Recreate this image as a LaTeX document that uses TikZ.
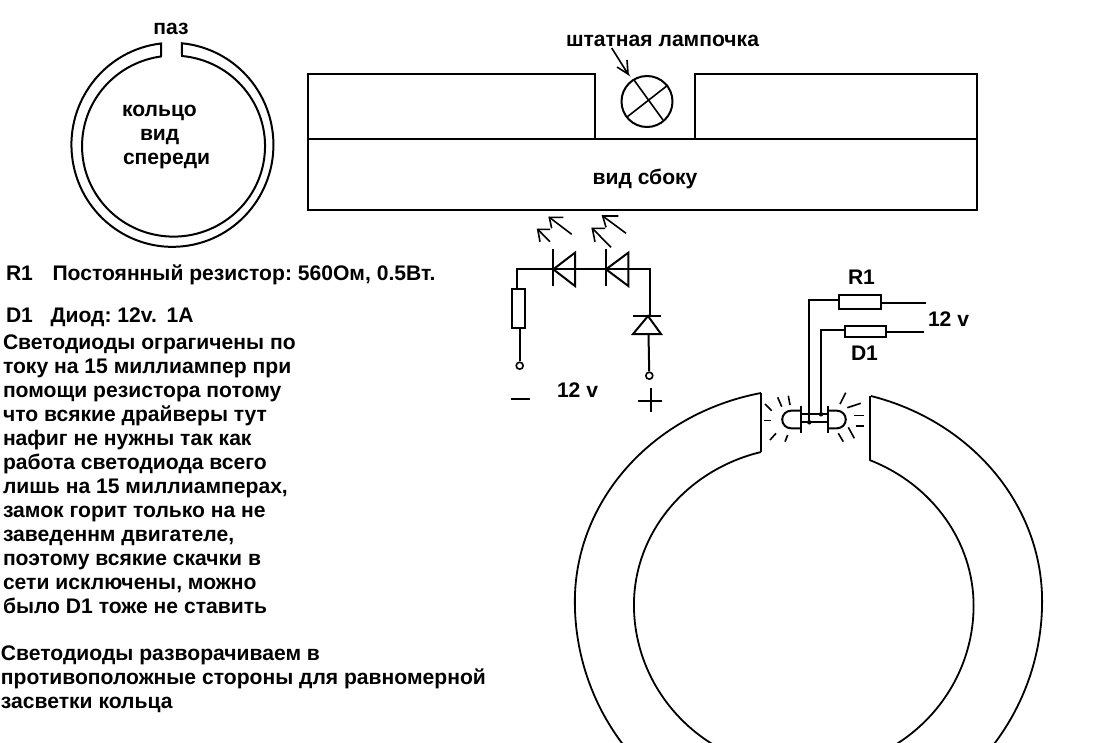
\documentclass[tikz,border=0pt]{standalone}
\usepackage{fontspec}
\setmainfont{Liberation Sans}
\frenchspacing
\tikzset{
 ln/.style={line width=2pt,black},
 ringl/.style={line width=1.8pt,black},
 fine/.style={line width=1.6pt,black},
 txt/.style={inner sep=0pt,outer sep=0pt,yshift=-0.7pt,font=\fontsize{21.1}{24}\selectfont\bfseries\frenchspacing,anchor=base west},
 ctxt/.style={inner sep=0pt,outer sep=0pt,yshift=-0.7pt,font=\fontsize{21.1}{24}\selectfont\bfseries\frenchspacing,anchor=base},
 term/.style={circle,draw,line width=1.6pt,fill=white,minimum size=7pt,inner sep=0pt},
 rbox/.style={rectangle,draw,line width=2pt,fill=white,inner sep=0pt,outer sep=0pt},
 junction/.style={circle,fill=black,minimum size=4.5pt,inner sep=0pt}
}
\begin{document}
\begin{tikzpicture}[x=1pt,y=-1pt,line join=miter]
\useasboundingbox (0,0) rectangle (1098,742);
\clip (0,0) rectangle (1098,742);
% small ring
\draw[ln] (161,56) -- (161,43.5) arc[x radius=101,y radius=102,start angle=-96.5,end angle=-444.6] -- (182,56)
  arc[x radius=91.5,y radius=90.5,start angle=-84.7,end angle=262.1] -- cycle;
% side view
\draw[ln] (308,139) -- (308,74) -- (595,74) -- (595,139);
\draw[ln] (695,139) -- (695,74) -- (977,74) -- (977,139);
\draw[ln] (308,139) rectangle (977,210);
\node[circle,draw,line width=2pt,minimum size=51pt,inner sep=0pt] (lamp) at (647,101.5) {};
\draw[fine] (634,80) -- (663,120);
\draw[fine] (668,85) -- (627,117);
\coordinate (lt) at (611.7,48);
\draw[fine] (lt) -- (628,74) -- (617,67);
\draw[fine] (628,74) -- (627,60);
% large ring
\draw[ringl] (761,393) arc[x radius=233.5,y radius=213,start angle=-101.7,end angle=-180]
   arc[x radius=233.5,y radius=235,start angle=180,end angle=130];
\draw[ringl] (871,396) arc[x radius=233.5,y radius=213,start angle=-74.5,end angle=0]
   arc[x radius=233.5,y radius=235,start angle=0,end angle=50];
\draw[ringl] (761,452) arc[x radius=169.5,y radius=158,start angle=-104.5,end angle=-180]
   arc[x radius=169.5,y radius=165,start angle=180,end angle=120];
\draw[ringl] (869.5,460) arc[x radius=169.5,y radius=158,start angle=-67.3,end angle=0]
   arc[x radius=169.5,y radius=165,start angle=0,end angle=60];
\draw[ln] (761,393) -- (761,452);
\draw[ln] (869.5,396) -- (869.5,460);
% left circuit
\node[rbox,minimum width=13.6pt,minimum height=38.7pt] (r0) at (518.5,308.3) {};
\node[term] (tm) at (519.7,365.7) {};
\node[term] (tp) at (649.3,375.7) {};
\coordinate (c1) at (517,269.3);
\coordinate (c2) at (650,269.3);
\draw[ln] (r0.north -| c1) -- (c1) -- (c2) -- (650,316);
\draw[ln] (519.7,327.7) -- (tm);
\draw[ln] (648.5,334) -- (tp);
\draw[ln] (633,316) -- (661,316);
\draw[ln] (633,334) -- (661,334) -- (648,316) -- cycle;
\draw[ln] (553.3,249) -- (553.3,286);
\draw[ln] (553.3,269.3) -- (575,252.7) -- (575,286) -- cycle;
\draw[ln] (606,249) -- (606,286);
\draw[ln] (606,269.3) -- (628.3,252.7) -- (628.3,286) -- cycle;
\draw[ln] (511,398.7) -- (530,398.7);
\draw[ln] (638.3,401) -- (662,401);
\draw[ln] (650.7,388.3) -- (650.7,411.7);
% light arrows
\draw[fine] (550,241.7) -- (537.7,229.3);
\draw[fine] (540,241.7) -- (537.7,229.3) -- (550,229.3);
\draw[fine] (571.7,234.3) -- (549.3,217.3);
\draw[fine] (551.7,228.3) -- (549.3,217.3) -- (563.3,217.3);
\draw[fine] (611,247.3) -- (592.3,228.3);
\draw[fine] (595,241.7) -- (592.3,228.3) -- (605,228.3);
\draw[fine] (626,233.3) -- (602.7,216);
\draw[fine] (606,227.3) -- (602.7,216) -- (618.3,216);
% right circuit
\node[rbox,minimum width=42.3pt,minimum height=14.3pt] (r1) at (860.2,301.9) {};
\node[rbox,minimum width=41pt,minimum height=11.3pt] (d1) at (865.2,331.4) {};
\coordinate (jr) at (809.3,422.3);
\coordinate (jd) at (821,414.3);
\coordinate (r1e) at (925.7,302.7);
\coordinate (d1e) at (924.3,331.7);
\draw[ln] (r1e) -- (r1e -| r1.east);
\draw[ln] (d1e) -- (d1e -| d1.east);
\draw[ln] (839,300) -- (809.3,300) -- (jr);
\draw[ln] (844.7,329.7) -- (821,329.7) -- (jd);
\draw[ln] (801,414.3) -- (827.7,414.3);
\draw[ln] (801,422.3) -- (827.7,422.3);
\node[junction] at (jr) {};
\node[junction] at (jd) {};
\draw[ln] (801,405.7) -- (801,433.3);
\draw[ln] (827.7,405.7) -- (827.7,433.3);
\draw[ln] (801,410.7) -- (791,410.7) arc[radius=8.8,start angle=-90,end angle=-270] -- (801,428.3);
\draw[ln] (827.7,410.7) -- (837,410.7) arc[radius=8.8,start angle=-90,end angle=90] -- (827.7,428.3);
% rays
\draw[fine] (765,404) -- (771.7,410.7);
\draw[fine] (777.7,397.3) -- (781.7,406.7);
\draw[fine] (788.3,395.7) -- (790,405);
\draw[fine] (764.3,420.3) -- (770.7,420.3);
\draw[fine] (770,440) -- (776,433.3);
\draw[fine] (785,441.7) -- (787.7,435);
\draw[fine] (840,404) -- (845.7,392.7);
\draw[fine] (847.3,407.7) -- (860.7,403.3);
\draw[fine] (854.3,415.3) -- (864,415.3);
\draw[fine] (855.7,425.7) -- (864,425.7);
\draw[fine] (848.3,427.3) -- (854.3,438.3);
\draw[fine] (838.3,433.3) -- (843.3,441.7);
% labels
\node[ctxt] (tpaz) at (171,34) {паз};
\node[txt] (t1) at (122,116) {кольцо};
\node[txt] (t2) at (140,140) {вид};
\node[txt] (t3) at (123,164) {спереди};
\node[txt] (t4) at (566,46) {штатная лампочка};
\node[ctxt] (t5) at (645,184) {вид сбоку};
\node[txt] (t6) at (848,284) {R1};
\node[txt] (t7) at (928,326) {12 v};
\node[txt] (t8) at (851,360) {D1};
\node[txt] (t9) at (557,397) {12 v};
\node[txt] (a1) at (6,280) {R1};
\node[txt] (a2) at (52.5,280) {Постоянный резистор: 560Ом, 0.5Вт.};
\node[txt] (a3) at (6,321.5) {D1};
\node[txt] (a4) at (50.5,321.5) {Диод: 12v.\hspace{4pt} 1A};
\node[txt] (p1) at (3,349) {Светодиоды ограгичены по};
\node[txt] (p2) at (3,373) {току на 15 миллиампер при};
\node[txt] (p3) at (3,397) {помощи резистора потому};
\node[txt] (p4) at (3,421) {что всякие драйверы тут};
\node[txt] (p5) at (3,445) {нафиг не нужны так как};
\node[txt] (p6) at (3,469) {работа светодиода всего};
\node[txt] (p7) at (3,493) {лишь на 15 миллиамперах,};
\node[txt] (p8) at (3,517) {замок горит только на не};
\node[txt] (p9) at (3,541) {заведеннм двигателе,};
\node[txt] (p10) at (3,565) {поэтому всякие скачки в};
\node[txt] (p11) at (3,589) {сети исключены, можно};
\node[txt] (p12) at (3,613) {было D1 тоже не ставить};
\node[txt] (q1) at (1,660) {Светодиоды разворачиваем в};
\node[txt] (q2) at (1,684) {противоположные стороны для равномерной};
\node[txt] (q3) at (1,708) {засветки кольца};
\end{tikzpicture}
\end{document}
